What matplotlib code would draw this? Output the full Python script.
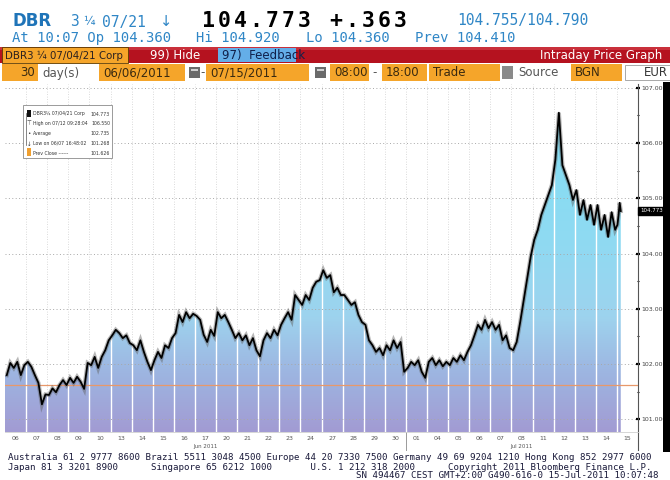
import numpy as np
import matplotlib.pyplot as plt
from matplotlib.colors import LinearSegmentedColormap
from matplotlib.patches import Rectangle, Polygon
from matplotlib.ticker import MultipleLocator
import matplotlib.transforms as mtransforms

# trading sessions on the axis (06 Jun - 15 Jul 2011)
days = ["06", "07", "08", "09", "10", "13", "14", "15", "16", "17",
        "20", "21", "22", "23", "24", "27", "28", "29", "30", "01",
        "04", "05", "06", "07", "08", "11", "12", "13", "14", "15"]
months = ["Jun 2011", "Jul 2011"]
month_label_day = [9, 24]
month_break_day = 19

# intraday prices, one list per session
prices = [
    [101.80, 102.02, 101.93, 102.04, 101.80, 101.98],  # 06 Jun
    [102.04, 101.95, 101.80, 101.66, 101.27, 101.45],
    [101.44, 101.56, 101.49, 101.62, 101.71, 101.62],
    [101.75, 101.66, 101.77, 101.68, 101.55, 102.02],
    [101.98, 102.13, 101.93, 102.13, 102.25, 102.43],
    [102.52, 102.62, 102.56, 102.47, 102.52, 102.38],  # 13 Jun
    [102.34, 102.25, 102.43, 102.22, 102.04, 101.89],
    [102.07, 102.22, 102.11, 102.34, 102.29, 102.47],
    [102.56, 102.89, 102.76, 102.94, 102.83, 102.91],
    [102.87, 102.80, 102.53, 102.40, 102.62, 102.51],
    [102.94, 102.83, 102.89, 102.76, 102.62, 102.47],  # 20 Jun
    [102.56, 102.43, 102.52, 102.34, 102.47, 102.25],
    [102.14, 102.43, 102.56, 102.47, 102.62, 102.52],
    [102.71, 102.83, 102.94, 102.80, 103.25, 103.16],
    [103.07, 103.25, 103.16, 103.38, 103.49, 103.52],
    [103.70, 103.56, 103.61, 103.30, 103.38, 103.25],  # 27 Jun
    [103.25, 103.16, 103.07, 103.12, 102.89, 102.76],
    [102.71, 102.43, 102.34, 102.22, 102.29, 102.16],
    [102.34, 102.25, 102.43, 102.29, 102.40, 101.86],
    [101.93, 102.04, 101.98, 102.07, 101.86, 101.75],  # 01 Jul
    [102.04, 102.11, 101.98, 102.07, 101.96, 102.04],
    [101.98, 102.11, 102.04, 102.16, 102.07, 102.22],
    [102.34, 102.52, 102.71, 102.62, 102.80, 102.65],
    [102.76, 102.62, 102.71, 102.43, 102.52, 102.29],
    [102.25, 102.40, 102.76, 103.16, 103.56, 103.95],
    [104.25, 104.43, 104.70, 104.88, 105.06, 105.24],  # 11 Jul
    [105.70, 106.55, 105.60, 105.42, 105.24, 104.97],
    [105.15, 104.70, 104.97, 104.61, 104.88, 104.52],
    [104.88, 104.43, 104.70, 104.30, 104.75, 104.43],
    [104.52, 104.70, 104.92, 104.77],                  # 15 Jul
]
prev_close = 101.626
last_price = 104.773
last_session = 0.21   # part of the 08:00-18:00 session done at 10:07
y_ticks = [101, 102, 103, 104, 105, 106, 107]

legend_rows = [("DBR3\u00bc 07/04/21 Corp", "104.773"),
               ("High on 07/12 09:28:04", "106.550"),
               ("Average", "102.735"),
               ("Low on 06/07 16:48:02", "101.268"),
               ("Prev Close ------", "101.626")]

W, H = 670, 480
fig = plt.figure(figsize=(6.7, 4.8), dpi=100)
fig.patch.set_facecolor("white")


def fx(px):
    return px / W


def fy(py):
    return 1 - py / H


def box(x0, y0, x1, y1, fc, ec="none", lw=0.6):
    fig.add_artist(Rectangle((fx(x0), fy(y1)), (x1 - x0) / W, (y1 - y0) / H,
                             transform=fig.transFigure, facecolor=fc,
                             edgecolor=ec, linewidth=lw))


def txt(x, y, s, **kw):
    kw.setdefault("va", "center")
    fig.text(fx(x), fy(y), s, **kw)


blue = "#2f86c6"
orange = "#f5a52a"
mono = "DejaVu Sans Mono"

# ---- header line 1
txt(12, 21, "DBR", color="#1f74b8", fontsize=12, weight="bold")
txt(70, 22, "3", color=blue, fontsize=10.5, family=mono)
txt(83, 22, "\u00bc", color=blue, fontsize=8.5)
txt(102, 22, "07/21", color=blue, fontsize=10.5, family=mono)
txt(160, 22, "\u2193", color=blue, fontsize=10.5)
for i, ch in enumerate("104.773 +.363"):
    txt(208 + 16.0 * i, 21, ch, color="black", fontsize=15.5, family=mono,
        weight="bold", ha="center")
txt(457, 21, "104.755/104.790", color=blue, fontsize=10.5, family=mono)

# ---- header line 2
txt(12, 38, "At 10:07 Op 104.360", color=blue, fontsize=10, family=mono)
txt(196, 38, "Hi 104.920", color=blue, fontsize=10, family=mono)
txt(306, 38, "Lo 104.360", color=blue, fontsize=10, family=mono)
txt(415, 38, "Prev 104.410", color=blue, fontsize=10, family=mono)

# ---- red command bar
box(0, 47, 670, 63, "#b5121f")
box(0, 47, 670, 50, "#c9303b")
box(2, 47, 128, 63, orange, ec="#5a3a00")
txt(5, 55.5, "DBR3 \u00bc 07/04/21 Corp", color="#2a2020", fontsize=7.4)
txt(150, 55, "99) Hide", color="white", fontsize=8.5)
box(218, 48, 296, 62, "#64aee8")
txt(222, 55, "97)  Feedback", color="#10204a", fontsize=8.5)
txt(662, 55.5, "Intraday Price Graph", color="white", fontsize=8.5, ha="right")

# ---- orange parameter bar
box(0, 64, 670, 81, "white")
fields = [(2, 38, "30", "right"), (99, 185, "06/06/2011", "left"),
          (206, 309, "07/15/2011", "left"), (330, 369, "08:00", "left"),
          (382, 427, "18:00", "left"), (429, 500, "Trade", "left"),
          (571, 622, "BGN", "left")]
for x0, x1, s, al in fields:
    box(x0, 64, x1, 81, orange)
    if al == "right":
        txt(x1 - 3, 73, s, color="#3a2a10", fontsize=8.5, ha="right")
    else:
        txt(x0 + 4, 73, s, color="#3a2a10", fontsize=8.5)
txt(42, 73, "day(s)", color="#555555", fontsize=8.5)
txt(200, 73, "-", color="#555555", fontsize=8.5)
txt(372, 73, "-", color="#555555", fontsize=8.5)
for x0 in (189, 315):
    box(x0, 67, x0 + 11, 78, "#6a6a6a")
    box(x0 + 2, 69, x0 + 9, 71, "#d0d0d0")
box(502, 66, 513, 79, "#8a8a8a")
txt(518, 73, "Source", color="#555555", fontsize=8.5)
box(625, 65, 675, 80, "white", ec="#9a9a9a")
txt(668, 73, "EUR", color="#333333", fontsize=8.5, ha="right")

# ---- chart
ybot, ytop = 100.77, 107.07
n_days = len(days)
ax = fig.add_axes([fx(5), fy(432), (638 - 5) / W, (432 - 84) / H])

xs, ys = [], []
for i, session in enumerate(prices):
    span = last_session if i == len(prices) - 1 else 1.0
    for k, p in enumerate(session):
        xs.append(i + span * (k + 0.5) / len(session))
        ys.append(p)

verts = [(0, ybot), (0, ys[0])] + list(zip(xs, ys)) + [(xs[-1], ybot)]
area = Polygon(verts, closed=True, facecolor="none", edgecolor="none")
ax.add_patch(area)

cmap = LinearSegmentedColormap.from_list(
    "bbg", [(0.0, "#a29bd3"), (0.18, "#9db7e2"), (0.33, "#9dd3ee"),
            (0.55, "#8fdaf2"), (1.0, "#7fdff5")])
grad = np.linspace(0, 1, 256).reshape(-1, 1)
im = ax.imshow(grad, extent=[0, n_days, ybot, ytop], origin="lower",
               aspect="auto", cmap=cmap, zorder=1)
im.set_clip_path(area)

ax.vlines(np.arange(1, n_days), ybot, ytop, colors="#cfcfcf",
          linestyles=(0, (1, 2)), lw=0.6, zorder=0.5)
wl = ax.vlines(np.arange(1, n_days), ybot, ytop, colors="white", lw=1.0,
               zorder=2)
wl.set_clip_path(area)
ax.hlines(y_ticks, 0, n_days, colors="#a8a8a8", linestyles=(0, (1, 2.5)),
          lw=0.7, zorder=3)
ax.axhline(prev_close, color="#e8986a", lw=0.9, zorder=3)

ax.plot(xs, ys, color="#606060", lw=3.0, alpha=0.45, zorder=4,
        solid_joinstyle="miter")
ax.plot(xs, ys, color="black", lw=1.3, zorder=5)

ax.set_xlim(0, n_days)
ax.set_ylim(ybot, ytop)

for side in ("top", "left"):
    ax.spines[side].set_visible(False)
ax.spines["bottom"].set_color("#d0d0d0")
ax.spines["bottom"].set_linewidth(0.6)
ax.spines["right"].set_color("#555555")
ax.spines["right"].set_linewidth(0.8)

ax.yaxis.tick_right()
ax.set_yticks(y_ticks, [f"{v:.3f}" for v in y_ticks])
ax.yaxis.set_minor_locator(MultipleLocator(0.5))
ax.tick_params(axis="y", which="major", direction="inout", length=3.5,
               width=1.6, colors="black", labelsize=4.5, labelcolor="#444444",
               pad=1)
ax.tick_params(axis="y", which="minor", direction="inout", length=1.5,
               width=0.8, colors="black")
ax.set_xticks(np.arange(n_days) + 0.5, days)
ax.tick_params(axis="x", length=0, labelsize=4.5, labelcolor="#555555",
               pad=3)

trans = mtransforms.blended_transform_factory(ax.transData, ax.transAxes)
for d, m in zip(month_label_day, months):
    ax.text(d + 0.5, -0.042, m, transform=trans, ha="center", va="center",
            fontsize=4, color="#555555")
ax.plot([month_break_day, month_break_day], [0, -0.052], transform=trans,
        color="#9a9a9a", lw=0.7, clip_on=False)
ax.plot([n_days, n_days], [0, -0.052], transform=trans,
        color="#555555", lw=0.8, clip_on=False)

ax.text(n_days + 0.1, last_price, f"{last_price:.3f}", fontsize=4,
        color="white", va="center", ha="left", clip_on=False,
        bbox=dict(boxstyle="square,pad=0.3", fc="black", ec="black"))

# ---- legend box
box(23, 105, 112, 158, "white", ec="#8a8a8a", lw=0.6)
for j, (lab, val) in enumerate(legend_rows):
    yy = 114 + 9.8 * j
    txt(33, yy, lab, fontsize=3.3, color="#333333")
    txt(110, yy, val, fontsize=3.3, color="#333333", ha="right")
box(27, 110, 31, 117, "#111111")
box(27, 148, 31, 156, "#f0a030")
fig.add_artist(plt.Line2D([fx(26), fx(26)], [fy(113), fy(145)],
                          transform=fig.transFigure, color="#555555", lw=0.5))
txt(29, 124, "\u22a4", fontsize=4, color="#333333", ha="center")
txt(29, 134, "\u2022", fontsize=4, color="#333333", ha="center")
txt(29, 144, "\u2193", fontsize=4, color="#333333", ha="center")

# right window border
box(663, 82, 670, 452, "black")

# ---- footer
foot = "#1a1a3a"
txt(8, 457, "Australia 61 2 9777 8600 Brazil 5511 3048 4500 Europe 44 20 "
    "7330 7500 Germany 49 69 9204 1210 Hong Kong 852 2977 6000",
    family=mono, fontsize=6.6, color=foot)
txt(8, 467, "Japan 81 3 3201 8900      Singapore 65 6212 1000       "
    "U.S. 1 212 318 2000      Copyright 2011 Bloomberg Finance L.P.",
    family=mono, fontsize=6.6, color=foot)
txt(658, 476, "SN 494467 CEST GMT+2:00 G490-616-0 15-Jul-2011 10:07:48",
    family=mono, fontsize=6.6, color=foot, ha="right")

fig.savefig("out.png", dpi=100)
